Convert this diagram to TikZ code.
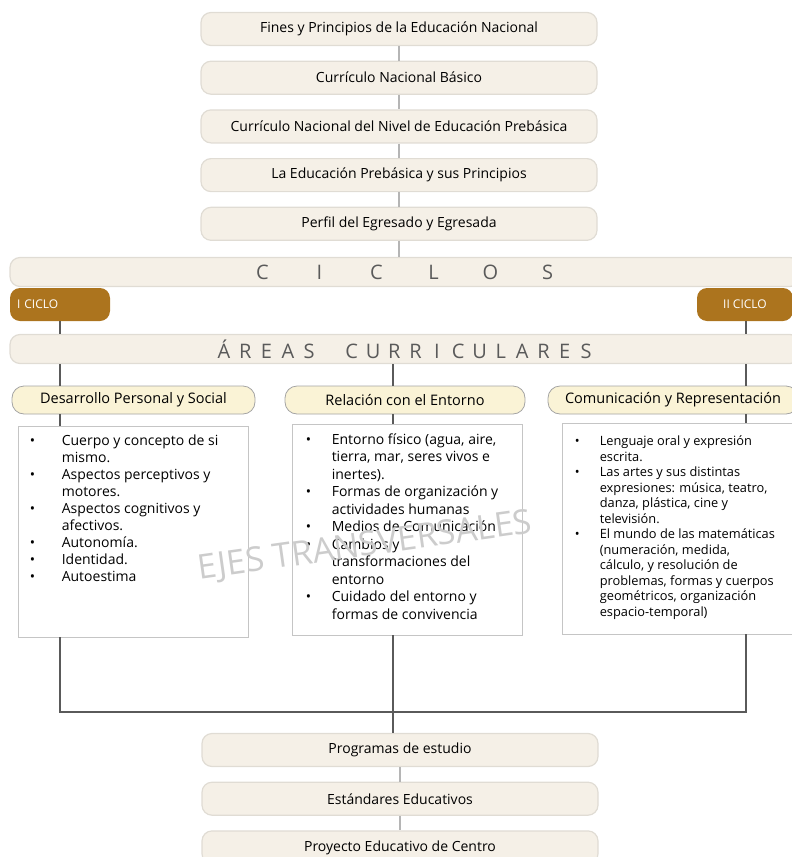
\documentclass[tikz,border=0pt]{standalone}
\usepackage{fontspec}
\setmainfont{Open Sans}
\usetikzlibrary{positioning}

\definecolor{crema}{RGB}{245,240,231}
\definecolor{borde}{RGB}{224,220,212}
\definecolor{oro}{RGB}{172,116,30}
\definecolor{paja}{RGB}{250,243,214}
\definecolor{gris}{RGB}{90,90,90}

% letras espaciadas y listas con vinetas
\newcommand{\celda}[2]{\makebox[#1]{#2}}
\newcommand{\vinetas}[3]{{#2\begin{tabular}{@{}p{#1}@{}l@{}}#3\end{tabular}}}

\begin{document}
\begin{tikzpicture}[x=1pt,y=-1pt,node distance=14.5pt]
  \tikzstyle{caja}=[draw=borde,fill=crema,line width=1.2pt,rounded corners=10pt,
                    minimum width=396pt,minimum height=33pt,font=\fontsize{14}{16}\selectfont]
  \tikzstyle{barra}=[caja,minimum width=790pt,minimum height=29pt,font=\fontsize{20}{22}\selectfont,text=gris]
  \tikzstyle{ciclo}=[fill=oro,rounded corners=10pt,minimum height=33pt,text=white,
                     font=\fontsize{12}{14}\selectfont]
  \tikzstyle{area}=[draw=gris!55,fill=paja,line width=0.8pt,rounded corners=12pt,
                    minimum height=28pt,font=\fontsize{14.5}{16}\selectfont]
  \tikzstyle{contenido}=[draw=gris!35,fill=white,line width=0.8pt,minimum height=211pt]
  \tikzstyle{lista}=[anchor=north west,inner sep=0pt]
  \tikzstyle{enlace}=[draw=gris!45,line width=2pt]
  \tikzstyle{linea}=[draw=gris,line width=1.3pt]

  \useasboundingbox (0,0) rectangle (792,857);

  % tronco comun
  \node[caja] (fines) at (399,29) {Fines y Principios de la Educación Nacional};
  \node[caja,below=of fines] (cnb) {Currículo Nacional Básico};
  \node[caja,below=of cnb]   (cnp) {Currículo Nacional del Nivel de Educación Prebásica};
  \node[caja,below=of cnp]   (prin) {La Educación Prebásica y sus Principios};
  \node[caja,below=of prin]  (perfil) {Perfil del Egresado y Egresada};

  \path (fines) edge[enlace] (cnb)
        (cnb)   edge[enlace] (cnp)
        (cnp)   edge[enlace] (prin)
        (prin)  edge[enlace] (perfil);

  % ciclos
  \node[barra] (ciclos) at (405,272)
    {\foreach \l in {C,I,C,L,O,S}{\celda{57pt}{\l}}};
  \draw[enlace] (perfil.south) -- (perfil.south |- ciclos.north);

  \node[ciclo,minimum width=100pt,align=left,text width=86pt] (ciclo1) at (60,304.5) {I CICLO};
  \node[ciclo,minimum width=96pt] (ciclo2) at (745,304.5) {II CICLO};

  \node[barra] (areas) at (405,349)
    {\foreach \l in {Á,R,E,A,S,{},C,U,R,R,I,C,U,L,A,R,E,S}{\celda{21.3pt}{\l}}\hspace{105pt}};

  \coordinate (uniA) at (60,712);
  \coordinate (uniB) at (393,712);
  \coordinate (uniC) at (746,712);

  % areas curriculares
  \node[area,minimum width=243pt] (desarrollo) at (133.5,400) {Desarrollo Personal y Social};
  \node[area,minimum width=240pt] (relacion) at (405,400) {Relación con el Entorno};
  \node[area,minimum width=250pt] (comunicacion) at (673,400) {Comunicación y Representación};

  \node[contenido,minimum width=230pt] (contA) at (133,531.5) {};
  \node[contenido,minimum width=230pt] (contB) at (407,529.5) {};
  \node[contenido,minimum width=240pt] (contC) at (682,528.5) {};

  \node[lista] (listaA) at ([shift={(12,8)}]contA.north west)
    {\vinetas{32pt}{\fontsize{14}{17}\selectfont}{%
      \textbullet & Cuerpo y concepto de si\\
                  & mismo.\\
      \textbullet & Aspectos perceptivos y\\
                  & motores.\\
      \textbullet & Aspectos cognitivos y\\
                  & afectivos.\\
      \textbullet & Autonomía.\\
      \textbullet & Identidad.\\
      \textbullet & Autoestima}};
  \node[lista] (listaB) at ([shift={(14,8)}]contB.north west)
    {\vinetas{26pt}{\fontsize{14}{17.5}\selectfont}{%
      \textbullet & Entorno físico (agua, aire,\\
                  & tierra, mar, seres vivos e\\
                  & inertes).\\
      \textbullet & Formas de organización y\\
                  & actividades humanas\\
      \textbullet & Medios de Comunicación\\
      \textbullet & Cambios y\\
                  & transformaciones del\\
                  & entorno\\
      \textbullet & Cuidado del entorno y\\
                  & formas de convivencia}};
  \node[lista] (listaC) at ([shift={(13,12)}]contC.north west)
    {\vinetas{25pt}{\fontsize{12.8}{15.5}\selectfont}{%
      \textbullet & Lenguaje oral y expresión\\
                  & escrita.\\
      \textbullet & Las artes y sus distintas\\
                  & expresiones: música, teatro,\\
                  & danza, plástica, cine y\\
                  & televisión.\\
      \textbullet & El mundo de las matemáticas\\
                  & (numeración, medida,\\
                  & cálculo, y resolución de\\
                  & problemas, formas y cuerpos\\
                  & geométricos, organización\\
                  & espacio-temporal)}};

  % conectores
  \draw[linea] (ciclo1.south) -- (ciclo1 |- areas.north);
  \draw[linea] (ciclo2.south -| uniC) -- (uniC |- areas.north);
  \draw[linea] (areas.south -| uniA) -- (desarrollo.north -| uniA);
  \draw[linea] (areas.south -| uniB) -- (relacion.north -| uniB);
  \draw[linea] (areas.south -| uniC) -- (comunicacion.north -| uniC);
  \draw[linea] (desarrollo.south -| uniA) -- (contA.north -| uniA);
  \draw[linea] (relacion.south -| uniB) -- (contB.north -| uniB);
  \draw[linea] (comunicacion.south -| uniC) -- (contC.north -| uniC);
  \draw[linea] (contA.south -| uniA) -- (uniA) -- (uniC) -- (contC.south -| uniC);

  % salida
  \node[caja] (programas) at (400,750) {Programas de estudio};
  \node[caja,below=of programas] (estandares) {Estándares Educativos};
  \node[caja,below=of estandares] (proyecto) {Proyecto Educativo de Centro};

  \draw[linea] (contB.south -| uniB) -- (uniB) -- (uniB |- programas.north);
  \path (programas) edge[enlace] (estandares)
        (estandares) edge[enlace] (proyecto);

  \node[rotate=8,text=black!20,font=\fontsize{34}{34}\selectfont] (ejes) at (365,547) {EJES TRANSVERSALES};
\end{tikzpicture}
\end{document}
